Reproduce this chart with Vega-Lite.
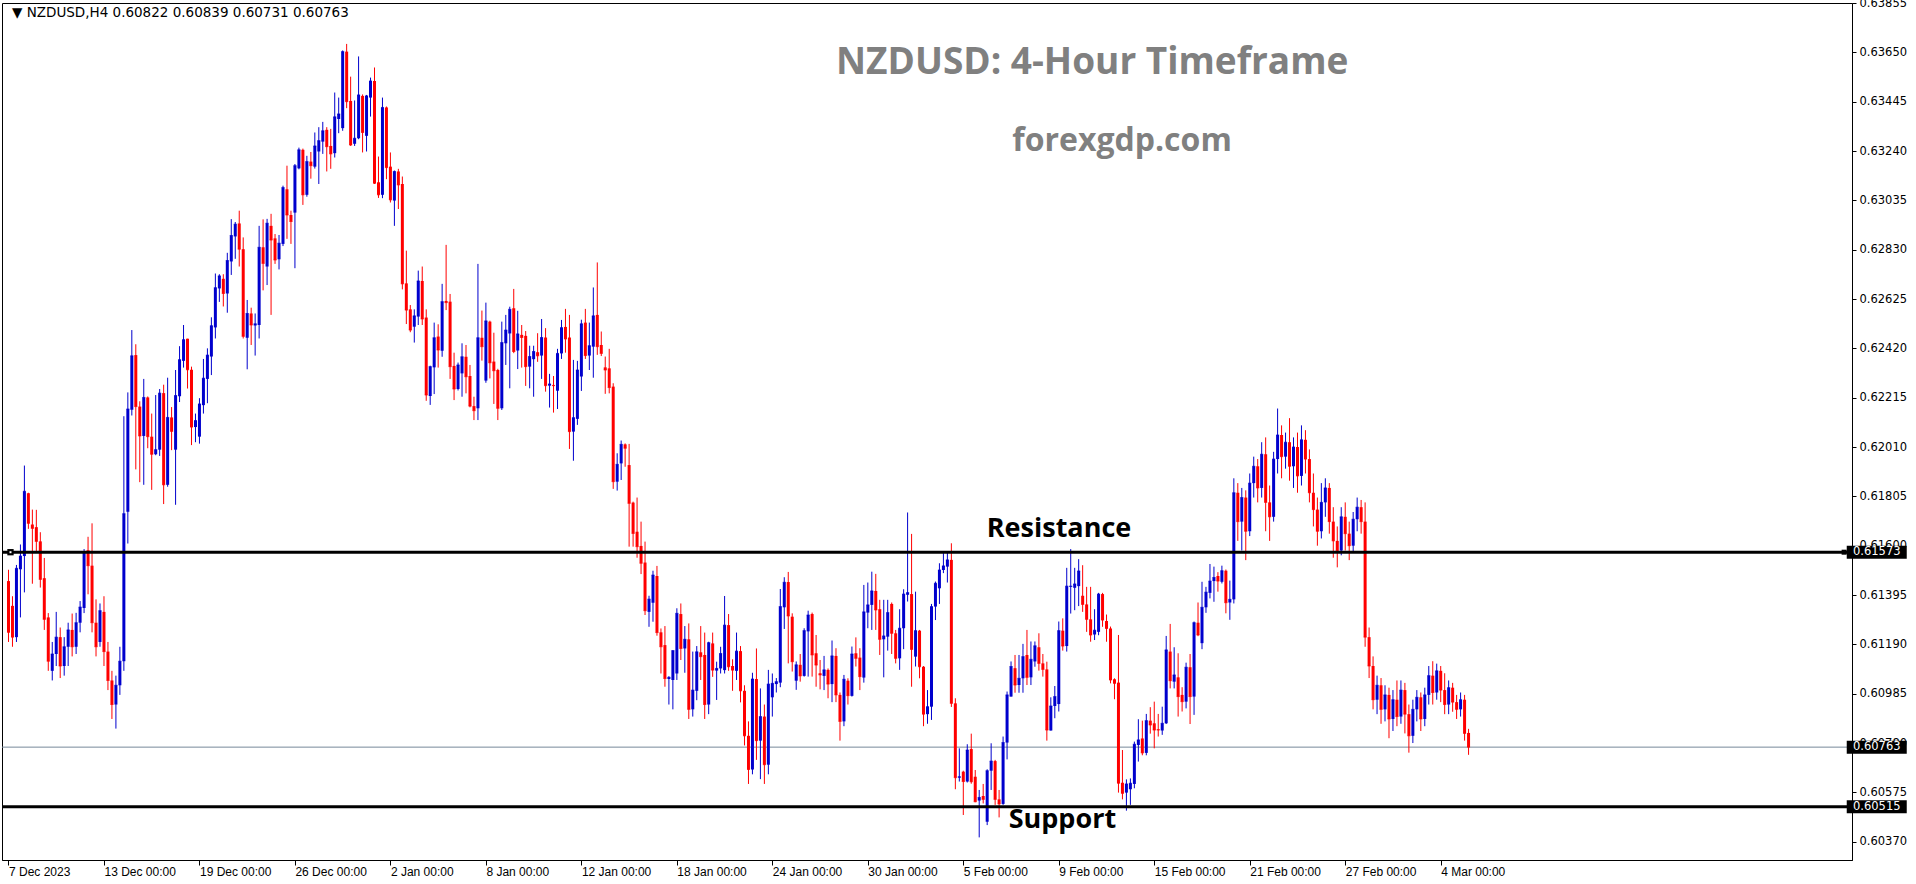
{
"$schema": "https://vega.github.io/schema/vega-lite/v6.json",
"width": 1850, "height": 857,
"autosize": "none",
"padding": {"left": 2, "top": 3, "right": 64, "bottom": 24},
"background": "white",
"config": {"view": {"stroke": "black", "strokeWidth": 1}, "font": "Liberation Sans"},
"datasets": {
"candles": [
{"i":0,"o":0.61453,"h":0.615,"l":0.612,"c":0.6124},
{"i":1,"o":0.6135,"h":0.6139,"l":0.6118,"c":0.6122},
{"i":2,"o":0.6122,"h":0.6152,"l":0.612,"c":0.61506},
{"i":3,"o":0.61502,"h":0.61605,"l":0.61302,"c":0.61557},
{"i":4,"o":0.61557,"h":0.61933,"l":0.61406,"c":0.61826},
{"i":5,"o":0.61818,"h":0.6182,"l":0.6167,"c":0.61693},
{"i":6,"o":0.61688,"h":0.6175,"l":0.61442,"c":0.61672},
{"i":7,"o":0.61677,"h":0.61749,"l":0.61573,"c":0.61618},
{"i":8,"o":0.61618,"h":0.61656,"l":0.61426,"c":0.6146},
{"i":9,"o":0.61465,"h":0.61549,"l":0.6125,"c":0.61294},
{"i":10,"o":0.61302,"h":0.6132,"l":0.6108,"c":0.6112},
{"i":11,"o":0.6108,"h":0.612,"l":0.6104,"c":0.6115},
{"i":12,"o":0.6115,"h":0.61325,"l":0.611,"c":0.6122},
{"i":13,"o":0.6122,"h":0.6126,"l":0.6105,"c":0.611},
{"i":14,"o":0.611,"h":0.6122,"l":0.6106,"c":0.6118},
{"i":15,"o":0.6118,"h":0.6128,"l":0.611,"c":0.6125},
{"i":16,"o":0.6125,"h":0.61318,"l":0.6114,"c":0.6118},
{"i":17,"o":0.6118,"h":0.61321,"l":0.6115,"c":0.6128},
{"i":18,"o":0.6128,"h":0.6137,"l":0.6124,"c":0.61345},
{"i":19,"o":0.61341,"h":0.61586,"l":0.6132,"c":0.61573},
{"i":20,"o":0.61581,"h":0.61637,"l":0.61398,"c":0.61517},
{"i":21,"o":0.61517,"h":0.61693,"l":0.6124,"c":0.6128},
{"i":22,"o":0.6128,"h":0.61377,"l":0.6114,"c":0.6118},
{"i":23,"o":0.612,"h":0.6136,"l":0.6118,"c":0.6133},
{"i":24,"o":0.61325,"h":0.6139,"l":0.611,"c":0.6116},
{"i":25,"o":0.6116,"h":0.612,"l":0.61,"c":0.6104},
{"i":26,"o":0.6104,"h":0.6108,"l":0.6088,"c":0.6094},
{"i":27,"o":0.6094,"h":0.6106,"l":0.6084,"c":0.6102},
{"i":28,"o":0.6102,"h":0.6118,"l":0.6098,"c":0.6112},
{"i":29,"o":0.6112,"h":0.62138,"l":0.6108,"c":0.61733},
{"i":30,"o":0.61741,"h":0.62237,"l":0.61609,"c":0.62168},
{"i":31,"o":0.62165,"h":0.62496,"l":0.62141,"c":0.62389},
{"i":32,"o":0.62392,"h":0.62437,"l":0.61917,"c":0.62178},
{"i":33,"o":0.62178,"h":0.622,"l":0.61864,"c":0.62056},
{"i":34,"o":0.62056,"h":0.62293,"l":0.61853,"c":0.62216},
{"i":35,"o":0.62216,"h":0.6222,"l":0.62005,"c":0.62053},
{"i":36,"o":0.62053,"h":0.62149,"l":0.61832,"c":0.6198},
{"i":37,"o":0.6198,"h":0.62226,"l":0.61976,"c":0.61999},
{"i":38,"o":0.61999,"h":0.62251,"l":0.61973,"c":0.62234},
{"i":39,"o":0.62234,"h":0.62269,"l":0.61773,"c":0.61853},
{"i":40,"o":0.61853,"h":0.62298,"l":0.61845,"c":0.62133},
{"i":41,"o":0.62133,"h":0.62176,"l":0.61997,"c":0.62075},
{"i":42,"o":0.61999,"h":0.6233,"l":0.6177,"c":0.62224},
{"i":43,"o":0.62221,"h":0.62429,"l":0.62197,"c":0.62373},
{"i":44,"o":0.62368,"h":0.62517,"l":0.6234,"c":0.62456},
{"i":45,"o":0.6246,"h":0.6246,"l":0.62253,"c":0.62331},
{"i":46,"o":0.62331,"h":0.62344,"l":0.62018,"c":0.62093},
{"i":47,"o":0.62093,"h":0.62149,"l":0.6203,"c":0.6212},
{"i":48,"o":0.62053,"h":0.62213,"l":0.62024,"c":0.62189},
{"i":49,"o":0.62184,"h":0.62376,"l":0.62149,"c":0.62296},
{"i":50,"o":0.62293,"h":0.6242,"l":0.62192,"c":0.62392},
{"i":51,"o":0.62386,"h":0.62549,"l":0.62309,"c":0.62514},
{"i":52,"o":0.62507,"h":0.62731,"l":0.62461,"c":0.62672},
{"i":53,"o":0.62669,"h":0.62728,"l":0.62613,"c":0.62721},
{"i":54,"o":0.62709,"h":0.62728,"l":0.62594,"c":0.62648},
{"i":55,"o":0.62648,"h":0.62817,"l":0.62568,"c":0.62785},
{"i":56,"o":0.62781,"h":0.62957,"l":0.62725,"c":0.62889},
{"i":57,"o":0.62885,"h":0.62945,"l":0.62792,"c":0.62936},
{"i":58,"o":0.62939,"h":0.62992,"l":0.6276,"c":0.62832},
{"i":59,"o":0.62832,"h":0.62881,"l":0.62461,"c":0.6247},
{"i":60,"o":0.62464,"h":0.62621,"l":0.62333,"c":0.62565},
{"i":61,"o":0.62565,"h":0.62589,"l":0.62434,"c":0.62517},
{"i":62,"o":0.62515,"h":0.62565,"l":0.6239,"c":0.62522},
{"i":63,"o":0.62517,"h":0.62929,"l":0.62461,"c":0.6284},
{"i":64,"o":0.6284,"h":0.62956,"l":0.62661,"c":0.62773},
{"i":65,"o":0.6276,"h":0.62958,"l":0.62683,"c":0.6294},
{"i":66,"o":0.62929,"h":0.62979,"l":0.62559,"c":0.6287},
{"i":67,"o":0.62877,"h":0.62895,"l":0.62771,"c":0.62787},
{"i":68,"o":0.6279,"h":0.62891,"l":0.62748,"c":0.62857},
{"i":69,"o":0.62854,"h":0.63096,"l":0.62845,"c":0.63088},
{"i":70,"o":0.63081,"h":0.63179,"l":0.62875,"c":0.62974},
{"i":71,"o":0.62974,"h":0.62992,"l":0.62854,"c":0.62947},
{"i":72,"o":0.62984,"h":0.63186,"l":0.62753,"c":0.63179},
{"i":73,"o":0.63168,"h":0.63254,"l":0.63164,"c":0.63245},
{"i":74,"o":0.63245,"h":0.6325,"l":0.63016,"c":0.63058},
{"i":75,"o":0.63058,"h":0.6322,"l":0.6305,"c":0.63196},
{"i":76,"o":0.63196,"h":0.63236,"l":0.63125,"c":0.63179},
{"i":77,"o":0.63175,"h":0.63317,"l":0.63167,"c":0.63261},
{"i":78,"o":0.63238,"h":0.63339,"l":0.63103,"c":0.63283},
{"i":79,"o":0.63279,"h":0.63361,"l":0.63228,"c":0.63324},
{"i":80,"o":0.63328,"h":0.63339,"l":0.63155,"c":0.63258},
{"i":81,"o":0.63261,"h":0.63332,"l":0.63166,"c":0.63228},
{"i":82,"o":0.63231,"h":0.63483,"l":0.63213,"c":0.63382},
{"i":83,"o":0.63373,"h":0.63462,"l":0.63314,"c":0.63394},
{"i":84,"o":0.63335,"h":0.63658,"l":0.63324,"c":0.63653},
{"i":85,"o":0.63653,"h":0.63685,"l":0.63418,"c":0.63445},
{"i":86,"o":0.63448,"h":0.63549,"l":0.63261,"c":0.63265},
{"i":87,"o":0.6327,"h":0.6345,"l":0.63261,"c":0.63293},
{"i":88,"o":0.63293,"h":0.63633,"l":0.63289,"c":0.63473},
{"i":89,"o":0.63469,"h":0.63475,"l":0.63234,"c":0.63317},
{"i":90,"o":0.63303,"h":0.63473,"l":0.63238,"c":0.63469},
{"i":91,"o":0.63462,"h":0.63545,"l":0.63383,"c":0.63531},
{"i":92,"o":0.63531,"h":0.63587,"l":0.63103,"c":0.63106},
{"i":93,"o":0.6311,"h":0.63217,"l":0.63045,"c":0.63058},
{"i":94,"o":0.63058,"h":0.63462,"l":0.63044,"c":0.63421},
{"i":95,"o":0.63421,"h":0.63425,"l":0.63123,"c":0.63171},
{"i":96,"o":0.63175,"h":0.63234,"l":0.63026,"c":0.63037},
{"i":97,"o":0.63034,"h":0.63159,"l":0.62929,"c":0.63155},
{"i":98,"o":0.63155,"h":0.63166,"l":0.62999,"c":0.63099},
{"i":99,"o":0.63103,"h":0.63134,"l":0.62665,"c":0.62688},
{"i":100,"o":0.6269,"h":0.62826,"l":0.62521,"c":0.62579},
{"i":101,"o":0.62582,"h":0.626,"l":0.62487,"c":0.62496},
{"i":102,"o":0.6251,"h":0.62582,"l":0.62444,"c":0.62555},
{"i":103,"o":0.62552,"h":0.62743,"l":0.62517,"c":0.627},
{"i":104,"o":0.627,"h":0.6276,"l":0.62517,"c":0.62542},
{"i":105,"o":0.62548,"h":0.62582,"l":0.62202,"c":0.62226},
{"i":106,"o":0.62222,"h":0.62348,"l":0.62185,"c":0.62344},
{"i":107,"o":0.62341,"h":0.62527,"l":0.6223,"c":0.62464},
{"i":108,"o":0.62469,"h":0.6252,"l":0.6234,"c":0.62413},
{"i":109,"o":0.6241,"h":0.62688,"l":0.62385,"c":0.62614},
{"i":110,"o":0.62617,"h":0.6285,"l":0.62579,"c":0.6261},
{"i":111,"o":0.62614,"h":0.62646,"l":0.62293,"c":0.62344},
{"i":112,"o":0.62347,"h":0.62402,"l":0.62205,"c":0.62251},
{"i":113,"o":0.62251,"h":0.62361,"l":0.62245,"c":0.62351},
{"i":114,"o":0.62316,"h":0.62441,"l":0.62219,"c":0.62385},
{"i":115,"o":0.62385,"h":0.62434,"l":0.62233,"c":0.62302},
{"i":116,"o":0.62305,"h":0.62351,"l":0.62175,"c":0.6218},
{"i":117,"o":0.6218,"h":0.62219,"l":0.62122,"c":0.62161},
{"i":118,"o":0.62171,"h":0.62771,"l":0.62122,"c":0.62464},
{"i":119,"o":0.62464,"h":0.62577,"l":0.62369,"c":0.62427},
{"i":120,"o":0.62286,"h":0.6261,"l":0.62277,"c":0.62534},
{"i":121,"o":0.62531,"h":0.62535,"l":0.62295,"c":0.6236},
{"i":122,"o":0.62365,"h":0.62485,"l":0.62189,"c":0.62327},
{"i":123,"o":0.6233,"h":0.62335,"l":0.62122,"c":0.62171},
{"i":124,"o":0.62171,"h":0.62531,"l":0.62164,"c":0.62444},
{"i":125,"o":0.62441,"h":0.62559,"l":0.62351,"c":0.62496},
{"i":126,"o":0.62482,"h":0.62593,"l":0.62254,"c":0.62582},
{"i":127,"o":0.62587,"h":0.62667,"l":0.624,"c":0.62407},
{"i":128,"o":0.62411,"h":0.62576,"l":0.62334,"c":0.6248},
{"i":129,"o":0.62476,"h":0.62517,"l":0.6234,"c":0.62465},
{"i":130,"o":0.62472,"h":0.62492,"l":0.62264,"c":0.62344},
{"i":131,"o":0.62344,"h":0.62431,"l":0.62254,"c":0.62386},
{"i":132,"o":0.62375,"h":0.62431,"l":0.62219,"c":0.62407},
{"i":133,"o":0.62404,"h":0.62483,"l":0.62364,"c":0.62389},
{"i":134,"o":0.6239,"h":0.62542,"l":0.62293,"c":0.62465},
{"i":135,"o":0.62465,"h":0.62504,"l":0.6224,"c":0.62265},
{"i":136,"o":0.62265,"h":0.62314,"l":0.62174,"c":0.62272},
{"i":137,"o":0.62268,"h":0.62305,"l":0.62153,"c":0.62265},
{"i":138,"o":0.62244,"h":0.62418,"l":0.62168,"c":0.62399},
{"i":139,"o":0.62399,"h":0.62538,"l":0.62376,"c":0.62506},
{"i":140,"o":0.62509,"h":0.62584,"l":0.62402,"c":0.62459},
{"i":141,"o":0.62465,"h":0.62559,"l":0.62002,"c":0.62074},
{"i":142,"o":0.62074,"h":0.62372,"l":0.61953,"c":0.62132},
{"i":143,"o":0.62127,"h":0.62368,"l":0.62102,"c":0.6233},
{"i":144,"o":0.62303,"h":0.62539,"l":0.62243,"c":0.62522},
{"i":145,"o":0.62527,"h":0.62584,"l":0.62376,"c":0.6239},
{"i":146,"o":0.6239,"h":0.62527,"l":0.6233,"c":0.62431},
{"i":147,"o":0.62427,"h":0.62673,"l":0.62298,"c":0.62555},
{"i":148,"o":0.62559,"h":0.62777,"l":0.62393,"c":0.62427},
{"i":149,"o":0.62434,"h":0.6249,"l":0.62388,"c":0.62399},
{"i":150,"o":0.62341,"h":0.62386,"l":0.62231,"c":0.6233},
{"i":151,"o":0.62337,"h":0.62418,"l":0.62233,"c":0.62257},
{"i":152,"o":0.62261,"h":0.62275,"l":0.61836,"c":0.61866},
{"i":153,"o":0.61866,"h":0.61984,"l":0.61829,"c":0.61938},
{"i":154,"o":0.61942,"h":0.62037,"l":0.61873,"c":0.62021},
{"i":155,"o":0.62021,"h":0.62025,"l":0.61928,"c":0.62005},
{"i":156,"o":0.61935,"h":0.62023,"l":0.61596,"c":0.61776},
{"i":157,"o":0.61779,"h":0.61783,"l":0.61596,"c":0.61651},
{"i":158,"o":0.61658,"h":0.618,"l":0.6155,"c":0.61596},
{"i":159,"o":0.61599,"h":0.617,"l":0.61482,"c":0.61527},
{"i":160,"o":0.6153,"h":0.61617,"l":0.61312,"c":0.6133},
{"i":161,"o":0.61325,"h":0.61392,"l":0.61263,"c":0.61378},
{"i":162,"o":0.61363,"h":0.61496,"l":0.61284,"c":0.61478},
{"i":163,"o":0.61474,"h":0.61516,"l":0.61226,"c":0.61239},
{"i":164,"o":0.6124,"h":0.61256,"l":0.61069,"c":0.6118},
{"i":165,"o":0.61187,"h":0.61266,"l":0.61014,"c":0.61048},
{"i":166,"o":0.61046,"h":0.61058,"l":0.6094,"c":0.61053},
{"i":167,"o":0.61042,"h":0.61166,"l":0.6092,"c":0.61164},
{"i":168,"o":0.61069,"h":0.6134,"l":0.61042,"c":0.61319},
{"i":169,"o":0.61316,"h":0.6136,"l":0.61125,"c":0.61173},
{"i":170,"o":0.61173,"h":0.61266,"l":0.61072,"c":0.61211},
{"i":171,"o":0.61211,"h":0.61277,"l":0.6088,"c":0.6092},
{"i":172,"o":0.6092,"h":0.6116,"l":0.6089,"c":0.61},
{"i":173,"o":0.60997,"h":0.61183,"l":0.60958,"c":0.61159},
{"i":174,"o":0.61157,"h":0.61266,"l":0.61042,"c":0.61139},
{"i":175,"o":0.61146,"h":0.61239,"l":0.6088,"c":0.6094},
{"i":176,"o":0.6094,"h":0.61201,"l":0.609,"c":0.61197},
{"i":177,"o":0.61194,"h":0.61239,"l":0.61055,"c":0.61083},
{"i":178,"o":0.61081,"h":0.61118,"l":0.60959,"c":0.6109},
{"i":179,"o":0.6109,"h":0.6118,"l":0.61069,"c":0.61152},
{"i":180,"o":0.61083,"h":0.61391,"l":0.61069,"c":0.6127},
{"i":181,"o":0.6127,"h":0.61316,"l":0.6108,"c":0.61097},
{"i":182,"o":0.611,"h":0.61128,"l":0.60997,"c":0.61083},
{"i":183,"o":0.6108,"h":0.61239,"l":0.61042,"c":0.61162},
{"i":184,"o":0.61162,"h":0.61183,"l":0.60949,"c":0.60997},
{"i":185,"o":0.60997,"h":0.6102,"l":0.6077,"c":0.6081},
{"i":186,"o":0.6081,"h":0.6087,"l":0.6061,"c":0.6067},
{"i":187,"o":0.6067,"h":0.61072,"l":0.6065,"c":0.61046},
{"i":188,"o":0.61046,"h":0.61173,"l":0.6071,"c":0.6079},
{"i":189,"o":0.6079,"h":0.61007,"l":0.6063,"c":0.6089},
{"i":190,"o":0.6089,"h":0.6094,"l":0.6061,"c":0.6069},
{"i":191,"o":0.6069,"h":0.61084,"l":0.6065,"c":0.61025},
{"i":192,"o":0.6097,"h":0.61069,"l":0.6089,"c":0.61028},
{"i":193,"o":0.61025,"h":0.6105,"l":0.6099,"c":0.61035},
{"i":194,"o":0.61031,"h":0.6142,"l":0.61012,"c":0.61347},
{"i":195,"o":0.61344,"h":0.61469,"l":0.61254,"c":0.61448},
{"i":196,"o":0.61449,"h":0.61491,"l":0.61111,"c":0.61308},
{"i":197,"o":0.61305,"h":0.61319,"l":0.61077,"c":0.61118},
{"i":198,"o":0.61039,"h":0.61119,"l":0.61001,"c":0.61105},
{"i":199,"o":0.61105,"h":0.6115,"l":0.61035,"c":0.61059},
{"i":200,"o":0.61059,"h":0.61257,"l":0.61056,"c":0.61247},
{"i":201,"o":0.61244,"h":0.6133,"l":0.61056,"c":0.61312},
{"i":202,"o":0.61316,"h":0.61322,"l":0.61056,"c":0.61146},
{"i":203,"o":0.61153,"h":0.61229,"l":0.61014,"c":0.61104},
{"i":204,"o":0.6107,"h":0.61125,"l":0.61003,"c":0.61063},
{"i":205,"o":0.61059,"h":0.61142,"l":0.61,"c":0.61084},
{"i":206,"o":0.61084,"h":0.6109,"l":0.60966,"c":0.61025},
{"i":207,"o":0.61025,"h":0.61206,"l":0.6095,"c":0.61142},
{"i":208,"o":0.61142,"h":0.61174,"l":0.6095,"c":0.6098},
{"i":209,"o":0.6098,"h":0.6099,"l":0.6079,"c":0.6087},
{"i":210,"o":0.6087,"h":0.61063,"l":0.6085,"c":0.61045},
{"i":211,"o":0.61039,"h":0.61049,"l":0.6094,"c":0.60977},
{"i":212,"o":0.60976,"h":0.61181,"l":0.60973,"c":0.6115},
{"i":213,"o":0.61153,"h":0.61219,"l":0.61098,"c":0.61132},
{"i":214,"o":0.61135,"h":0.61174,"l":0.61,"c":0.61056},
{"i":215,"o":0.61052,"h":0.61437,"l":0.61031,"c":0.61325},
{"i":216,"o":0.61322,"h":0.61447,"l":0.61257,"c":0.61354},
{"i":217,"o":0.61354,"h":0.61492,"l":0.6125,"c":0.61412},
{"i":218,"o":0.61412,"h":0.61483,"l":0.6125,"c":0.61333},
{"i":219,"o":0.61336,"h":0.61375,"l":0.61146,"c":0.61211},
{"i":220,"o":0.61211,"h":0.61375,"l":0.61053,"c":0.61225},
{"i":221,"o":0.61222,"h":0.61375,"l":0.61164,"c":0.61322},
{"i":222,"o":0.61358,"h":0.61364,"l":0.6115,"c":0.61236},
{"i":223,"o":0.61236,"h":0.6125,"l":0.61111,"c":0.61132},
{"i":224,"o":0.61132,"h":0.61336,"l":0.61084,"c":0.61257},
{"i":225,"o":0.61257,"h":0.61419,"l":0.6117,"c":0.61399},
{"i":226,"o":0.61396,"h":0.61738,"l":0.61368,"c":0.61405},
{"i":227,"o":0.61399,"h":0.61649,"l":0.61014,"c":0.61169},
{"i":228,"o":0.61139,"h":0.61409,"l":0.61098,"c":0.61247},
{"i":229,"o":0.61247,"h":0.6125,"l":0.61049,"c":0.61097},
{"i":230,"o":0.61097,"h":0.611,"l":0.6085,"c":0.609},
{"i":231,"o":0.609,"h":0.61,"l":0.6086,"c":0.60931},
{"i":232,"o":0.60931,"h":0.61358,"l":0.60876,"c":0.61347},
{"i":233,"o":0.61347,"h":0.61451,"l":0.61291,"c":0.61444},
{"i":234,"o":0.61423,"h":0.61527,"l":0.61358,"c":0.61499},
{"i":235,"o":0.61499,"h":0.61569,"l":0.61486,"c":0.61516},
{"i":236,"o":0.61513,"h":0.61576,"l":0.61447,"c":0.61541},
{"i":237,"o":0.61541,"h":0.6161,"l":0.6093,"c":0.60945},
{"i":238,"o":0.60945,"h":0.60966,"l":0.60588,"c":0.60636},
{"i":239,"o":0.60636,"h":0.60758,"l":0.6062,"c":0.6064},
{"i":240,"o":0.60661,"h":0.60665,"l":0.60481,"c":0.6062},
{"i":241,"o":0.6062,"h":0.60775,"l":0.60616,"c":0.60751},
{"i":242,"o":0.60755,"h":0.60819,"l":0.60611,"c":0.60619},
{"i":243,"o":0.6064,"h":0.60668,"l":0.60534,"c":0.60536},
{"i":244,"o":0.60541,"h":0.60585,"l":0.60388,"c":0.60554},
{"i":245,"o":0.6056,"h":0.6061,"l":0.60529,"c":0.60546},
{"i":246,"o":0.60453,"h":0.60671,"l":0.60439,"c":0.60665},
{"i":247,"o":0.60665,"h":0.60779,"l":0.60585,"c":0.60705},
{"i":248,"o":0.60705,"h":0.6071,"l":0.60523,"c":0.60546},
{"i":249,"o":0.60546,"h":0.60585,"l":0.60471,"c":0.60527},
{"i":250,"o":0.60527,"h":0.60807,"l":0.60523,"c":0.60782},
{"i":251,"o":0.60782,"h":0.60994,"l":0.60712,"c":0.6098},
{"i":252,"o":0.60973,"h":0.61119,"l":0.60973,"c":0.61098},
{"i":253,"o":0.61091,"h":0.61146,"l":0.60989,"c":0.61021},
{"i":254,"o":0.61021,"h":0.61146,"l":0.60989,"c":0.61049},
{"i":255,"o":0.61049,"h":0.61192,"l":0.60989,"c":0.61139},
{"i":256,"o":0.61146,"h":0.6125,"l":0.61021,"c":0.61053},
{"i":257,"o":0.61053,"h":0.61202,"l":0.61021,"c":0.61128},
{"i":258,"o":0.61119,"h":0.61202,"l":0.61097,"c":0.61184},
{"i":259,"o":0.61178,"h":0.61236,"l":0.61081,"c":0.61111},
{"i":260,"o":0.61111,"h":0.6115,"l":0.61056,"c":0.61086},
{"i":261,"o":0.61086,"h":0.61118,"l":0.6079,"c":0.60834},
{"i":262,"o":0.60832,"h":0.6097,"l":0.60832,"c":0.60934},
{"i":263,"o":0.60934,"h":0.61017,"l":0.60883,"c":0.60973},
{"i":264,"o":0.60942,"h":0.61285,"l":0.60911,"c":0.61247},
{"i":265,"o":0.61247,"h":0.61298,"l":0.61164,"c":0.61183},
{"i":266,"o":0.61183,"h":0.61508,"l":0.6116,"c":0.61432},
{"i":267,"o":0.61429,"h":0.61586,"l":0.61318,"c":0.61432},
{"i":268,"o":0.61425,"h":0.61508,"l":0.61332,"c":0.61441},
{"i":269,"o":0.61432,"h":0.61544,"l":0.61349,"c":0.61495},
{"i":270,"o":0.61392,"h":0.61519,"l":0.61325,"c":0.61356},
{"i":271,"o":0.61356,"h":0.61429,"l":0.61242,"c":0.61294},
{"i":272,"o":0.61294,"h":0.61429,"l":0.61201,"c":0.61229},
{"i":273,"o":0.61231,"h":0.61336,"l":0.61208,"c":0.61249},
{"i":274,"o":0.61242,"h":0.61404,"l":0.61228,"c":0.61399},
{"i":275,"o":0.61399,"h":0.61404,"l":0.61263,"c":0.61291},
{"i":276,"o":0.61287,"h":0.61314,"l":0.61201,"c":0.61256},
{"i":277,"o":0.61256,"h":0.61264,"l":0.61028,"c":0.61042},
{"i":278,"o":0.61045,"h":0.61049,"l":0.60962,"c":0.61028},
{"i":279,"o":0.61031,"h":0.61229,"l":0.60574,"c":0.60613},
{"i":280,"o":0.60615,"h":0.60751,"l":0.60546,"c":0.60571},
{"i":281,"o":0.60574,"h":0.60629,"l":0.60499,"c":0.6061},
{"i":282,"o":0.60588,"h":0.60633,"l":0.60523,"c":0.60613},
{"i":283,"o":0.6061,"h":0.60786,"l":0.60592,"c":0.60775},
{"i":284,"o":0.60772,"h":0.60879,"l":0.60703,"c":0.60793},
{"i":285,"o":0.60799,"h":0.60873,"l":0.60729,"c":0.60739},
{"i":286,"o":0.60739,"h":0.60901,"l":0.60729,"c":0.60873},
{"i":287,"o":0.60873,"h":0.60929,"l":0.60819,"c":0.60855},
{"i":288,"o":0.60862,"h":0.60952,"l":0.60758,"c":0.60834},
{"i":289,"o":0.60837,"h":0.60901,"l":0.60807,"c":0.60834},
{"i":290,"o":0.60832,"h":0.60931,"l":0.60814,"c":0.60862},
{"i":291,"o":0.60862,"h":0.61225,"l":0.60859,"c":0.61167},
{"i":292,"o":0.6116,"h":0.61275,"l":0.61007,"c":0.61039},
{"i":293,"o":0.61035,"h":0.61178,"l":0.61007,"c":0.61063},
{"i":294,"o":0.61053,"h":0.61153,"l":0.6089,"c":0.60973},
{"i":295,"o":0.6098,"h":0.61012,"l":0.60911,"c":0.60952},
{"i":296,"o":0.60952,"h":0.61114,"l":0.60924,"c":0.61095},
{"i":297,"o":0.61095,"h":0.6115,"l":0.60859,"c":0.60973},
{"i":298,"o":0.60973,"h":0.61285,"l":0.60897,"c":0.6128},
{"i":299,"o":0.6128,"h":0.61364,"l":0.61224,"c":0.61229},
{"i":300,"o":0.61195,"h":0.6145,"l":0.6117,"c":0.61344},
{"i":301,"o":0.61344,"h":0.61429,"l":0.61321,"c":0.61407},
{"i":302,"o":0.61404,"h":0.61524,"l":0.61381,"c":0.61453},
{"i":303,"o":0.61453,"h":0.61513,"l":0.61367,"c":0.61468},
{"i":304,"o":0.61474,"h":0.6149,"l":0.61409,"c":0.61453},
{"i":305,"o":0.6145,"h":0.61517,"l":0.61443,"c":0.61496},
{"i":306,"o":0.61496,"h":0.61501,"l":0.61319,"c":0.61363},
{"i":307,"o":0.61364,"h":0.61455,"l":0.61292,"c":0.61377},
{"i":308,"o":0.61377,"h":0.6188,"l":0.6136,"c":0.6182},
{"i":309,"o":0.6182,"h":0.6186,"l":0.6162,"c":0.617},
{"i":310,"o":0.617,"h":0.6184,"l":0.6158,"c":0.618},
{"i":311,"o":0.618,"h":0.6183,"l":0.6154,"c":0.6166},
{"i":312,"o":0.6166,"h":0.619,"l":0.6164,"c":0.6186},
{"i":313,"o":0.6186,"h":0.6197,"l":0.618,"c":0.6193},
{"i":314,"o":0.6193,"h":0.6196,"l":0.6178,"c":0.6184},
{"i":315,"o":0.6184,"h":0.6203,"l":0.618,"c":0.6198},
{"i":316,"o":0.6198,"h":0.6205,"l":0.6166,"c":0.6178},
{"i":317,"o":0.6178,"h":0.6185,"l":0.6162,"c":0.6172},
{"i":318,"o":0.6172,"h":0.6199,"l":0.617,"c":0.6196},
{"i":319,"o":0.6196,"h":0.6217,"l":0.619,"c":0.6206},
{"i":320,"o":0.6206,"h":0.621,"l":0.6188,"c":0.6197},
{"i":321,"o":0.6197,"h":0.6207,"l":0.6192,"c":0.6203},
{"i":322,"o":0.6203,"h":0.6213,"l":0.6187,"c":0.6193},
{"i":323,"o":0.6193,"h":0.6205,"l":0.6184,"c":0.6201},
{"i":324,"o":0.6201,"h":0.6207,"l":0.6182,"c":0.6189},
{"i":325,"o":0.6189,"h":0.621,"l":0.6185,"c":0.6204},
{"i":326,"o":0.6204,"h":0.6208,"l":0.619,"c":0.6196},
{"i":327,"o":0.6196,"h":0.62,"l":0.6178,"c":0.6182},
{"i":328,"o":0.6182,"h":0.619,"l":0.6168,"c":0.6175},
{"i":329,"o":0.6175,"h":0.618,"l":0.616,"c":0.6166},
{"i":330,"o":0.6166,"h":0.6186,"l":0.6163,"c":0.6178},
{"i":331,"o":0.6178,"h":0.6188,"l":0.6172,"c":0.6184},
{"i":332,"o":0.6184,"h":0.6186,"l":0.6165,"c":0.617},
{"i":333,"o":0.617,"h":0.6176,"l":0.6155,"c":0.6162},
{"i":334,"o":0.6162,"h":0.6168,"l":0.6151,"c":0.6158},
{"i":335,"o":0.6158,"h":0.6176,"l":0.6156,"c":0.6172},
{"i":336,"o":0.6172,"h":0.6178,"l":0.6158,"c":0.6165},
{"i":337,"o":0.6165,"h":0.617,"l":0.6154,"c":0.616},
{"i":338,"o":0.616,"h":0.6174,"l":0.6157,"c":0.6171},
{"i":339,"o":0.6171,"h":0.618,"l":0.6166,"c":0.6176},
{"i":340,"o":0.6176,"h":0.6179,"l":0.6165,"c":0.617},
{"i":341,"o":0.617,"h":0.6178,"l":0.6118,"c":0.6122},
{"i":342,"o":0.6122,"h":0.6126,"l":0.6105,"c":0.611},
{"i":343,"o":0.611,"h":0.6114,"l":0.6092,"c":0.6096},
{"i":344,"o":0.6096,"h":0.6106,"l":0.609,"c":0.6102},
{"i":345,"o":0.6102,"h":0.6105,"l":0.6086,"c":0.6092},
{"i":346,"o":0.6092,"h":0.6102,"l":0.6087,"c":0.6098},
{"i":347,"o":0.6098,"h":0.6101,"l":0.608,"c":0.6088},
{"i":348,"o":0.6088,"h":0.61,"l":0.6083,"c":0.6096},
{"i":349,"o":0.6096,"h":0.6104,"l":0.6085,"c":0.6089},
{"i":350,"o":0.6089,"h":0.6104,"l":0.6086,"c":0.61},
{"i":351,"o":0.61,"h":0.6103,"l":0.6082,"c":0.609},
{"i":352,"o":0.609,"h":0.6094,"l":0.6074,"c":0.6081},
{"i":353,"o":0.6081,"h":0.6096,"l":0.6078,"c":0.6092},
{"i":354,"o":0.6092,"h":0.61,"l":0.6087,"c":0.6097},
{"i":355,"o":0.6097,"h":0.6099,"l":0.6083,"c":0.6088},
{"i":356,"o":0.6088,"h":0.6101,"l":0.6085,"c":0.6098},
{"i":357,"o":0.6098,"h":0.611,"l":0.6094,"c":0.6106},
{"i":358,"o":0.6106,"h":0.6112,"l":0.6094,"c":0.6099},
{"i":359,"o":0.6099,"h":0.6111,"l":0.6096,"c":0.6108},
{"i":360,"o":0.6108,"h":0.611,"l":0.6095,"c":0.61},
{"i":361,"o":0.61,"h":0.6107,"l":0.609,"c":0.6094},
{"i":362,"o":0.6094,"h":0.6104,"l":0.609,"c":0.6101},
{"i":363,"o":0.6101,"h":0.6103,"l":0.6091,"c":0.6095},
{"i":364,"o":0.6095,"h":0.6098,"l":0.6088,"c":0.6092},
{"i":365,"o":0.6092,"h":0.6099,"l":0.6089,"c":0.6096},
{"i":366,"o":0.6096,"h":0.6098,"l":0.6079,"c":0.6082},
{"i":367,"o":0.60822,"h":0.60839,"l":0.60731,"c":0.60763}
],
"levels": [{"price": 0.61573}, {"price": 0.60763}, {"price": 0.60515}]
},
"layer": [
{
"data": {"values": [{}]},
"mark": {"type": "rule", "color": "#778899", "strokeWidth": 1},
"encoding": {"y": {"datum": 0.60763, "type": "quantitative", "title": null}}
},
{
"data": {"name": "candles"},
"mark": {"type": "rule", "strokeWidth": 1},
"encoding": {
"x": {"field": "i", "type": "quantitative", "title": null,
"scale": {"domain": [-0.375, 462.125], "nice": false, "zero": false},
"axis": {"orient": "bottom", "values": [0,24,48,72,96,120,144,168,192,216,240,264,288,312,336,360],
"labelExpr": "['7 Dec 2023','13 Dec 00:00','19 Dec 00:00','26 Dec 00:00','2 Jan 00:00','8 Jan 00:00','12 Jan 00:00','18 Jan 00:00','24 Jan 00:00','30 Jan 00:00','5 Feb 00:00','9 Feb 00:00','15 Feb 00:00','21 Feb 00:00','27 Feb 00:00','4 Mar 00:00'][round(datum.value/24)]",
"grid": false, "tickSize": 5, "tickColor": "black", "domainColor": "black", "labelColor": "black",
"labelFont": "Liberation Sans", "labelFontSize": 12, "labelAlign": "left", "labelBaseline": "top", "labelPadding": 1,
"labelBound": false, "labelFlush": false, "labelOverlap": false}},
"y": {"field": "l", "type": "quantitative", "title": null,
"scale": {"domain": [0.60294, 0.63855], "nice": false, "zero": false},
"axis": {"orient": "right", "values": [0.63855,0.6365,0.63445,0.6324,0.63035,0.6283,0.62625,0.6242,0.62215,0.6201,0.61805,0.616,0.61395,0.6119,0.60985,0.6078,0.60575,0.6037],
"format": ".5f", "grid": false, "tickSize": 4, "tickColor": "black", "domainColor": "black", "labelColor": "black",
"labelFont": "DejaVu Sans", "labelFontSize": 11.5, "labelPadding": 3, "labelBound": false, "labelFlush": false, "labelOverlap": false}},
"y2": {"field": "h"},
"color": {"condition": {"test": "datum.c >= datum.o", "value": "#0000CD"}, "value": "#FF0000"}
}
},
{
"data": {"name": "candles"},
"mark": {"type": "bar", "size": 3},
"encoding": {
"x": {"field": "i", "type": "quantitative", "title": null},
"y": {"field": "o", "type": "quantitative", "title": null},
"y2": {"field": "c"},
"color": {"condition": {"test": "datum.c >= datum.o", "value": "#0000CD"}, "value": "#FF0000"}
}
},
{
"data": {"name": "candles"},
"mark": {"type": "tick", "orient": "horizontal", "size": 3, "thickness": 1},
"encoding": {
"x": {"field": "i", "type": "quantitative", "title": null},
"y": {"field": "c", "type": "quantitative", "title": null},
"color": {"condition": {"test": "datum.c >= datum.o", "value": "#0000CD"}, "value": "#FF0000"}
}
},
{
"data": {"values": [{}]},
"mark": {"type": "rule", "color": "black", "strokeWidth": 3},
"encoding": {"y": {"datum": 0.61573, "type": "quantitative", "title": null}}
},
{
"data": {"values": [{}]},
"mark": {"type": "rule", "color": "black", "strokeWidth": 3},
"encoding": {"y": {"datum": 0.60515, "type": "quantitative", "title": null}}
},
{
"data": {"values": [{}]},
"mark": {"type": "point", "shape": "square", "size": 40, "filled": true, "color": "black", "opacity": 1},
"encoding": {"x": {"datum": 0.5, "type": "quantitative", "title": null}, "y": {"datum": 0.61573, "type": "quantitative", "title": null}}
},
{
"data": {"values": [{}]},
"mark": {"type": "point", "shape": "square", "size": 4, "filled": true, "color": "white", "opacity": 1},
"encoding": {"x": {"datum": 0.5, "type": "quantitative", "title": null}, "y": {"datum": 0.61573, "type": "quantitative", "title": null}}
},
{
"data": {"values": [{}]},
"mark": {"type": "point", "shape": "square", "size": 25, "filled": true, "color": "black", "opacity": 1},
"encoding": {"x": {"datum": 461.4, "type": "quantitative", "title": null}, "y": {"datum": 0.61573, "type": "quantitative", "title": null}}
},
{
"data": {"values": [{}]},
"mark": {"type": "text", "text": "NZDUSD: 4-Hour Timeframe", "font": "Open Sans", "fontWeight": "bold", "fontSize": 37, "color": "#808080", "align": "center", "baseline": "middle"},
"encoding": {"x": {"datum": 272.4, "type": "quantitative", "title": null}, "y": {"datum": 0.63606, "type": "quantitative", "title": null}}
},
{
"data": {"values": [{}]},
"mark": {"type": "text", "text": "forexgdp.com", "font": "Open Sans", "fontWeight": "bold", "fontSize": 32, "color": "#808080", "align": "center", "baseline": "middle"},
"encoding": {"x": {"datum": 279.9, "type": "quantitative", "title": null}, "y": {"datum": 0.63282, "type": "quantitative", "title": null}}
},
{
"data": {"values": [{}]},
"mark": {"type": "text", "text": "Resistance", "font": "Open Sans", "fontWeight": "bold", "fontSize": 27, "color": "black", "align": "left", "baseline": "alphabetic"},
"encoding": {"x": {"datum": 245.9, "type": "quantitative", "title": null}, "y": {"datum": 0.61637, "type": "quantitative", "title": null}}
},
{
"data": {"values": [{}]},
"mark": {"type": "text", "text": "Support", "font": "Open Sans", "fontWeight": "bold", "fontSize": 27, "color": "black", "align": "left", "baseline": "alphabetic"},
"encoding": {"x": {"datum": 251.4, "type": "quantitative", "title": null}, "y": {"datum": 0.60425, "type": "quantitative", "title": null}}
},
{
"data": {"values": [{}]},
"mark": {"type": "text", "text": "▼  NZDUSD,H4   0.60822 0.60839 0.60731 0.60763", "font": "DejaVu Sans", "fontSize": 13.5, "color": "black", "align": "left", "baseline": "middle"},
"encoding": {"x": {"datum": 0.875, "type": "quantitative", "title": null}, "y": {"datum": 0.63815, "type": "quantitative", "title": null}}
},
{
"data": {"name": "levels"},
"mark": {"type": "tick", "orient": "horizontal", "size": 60, "thickness": 13, "color": "black", "opacity": 1},
"encoding": {"x": {"datum": 469.6, "type": "quantitative", "title": null}, "y": {"field": "price", "type": "quantitative", "title": null}}
},
{
"data": {"name": "levels"},
"mark": {"type": "text", "font": "DejaVu Sans", "fontSize": 11.5, "color": "white", "align": "center", "baseline": "middle"},
"encoding": {"x": {"datum": 469.6, "type": "quantitative", "title": null}, "y": {"field": "price", "type": "quantitative", "title": null}, "text": {"field": "price", "format": ".5f"}}
}
]
}
